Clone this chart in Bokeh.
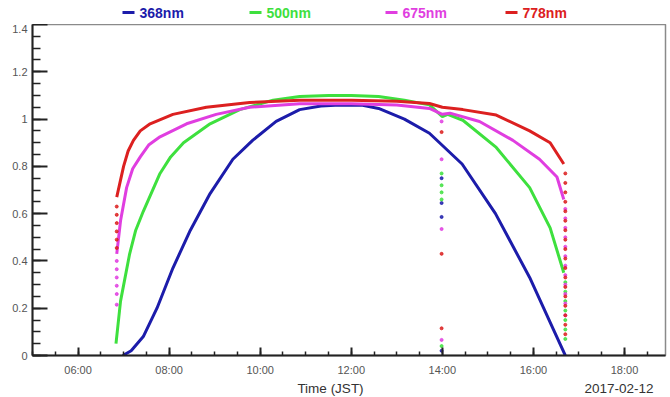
import pandas as pd
from bokeh.plotting import figure
from bokeh.layouts import column
from bokeh.models import Range1d, FixedTicker, CustomJSTickFormatter
from bokeh.core.properties import value
from bokeh.embed import file_html
from bokeh.resources import INLINE

DAY = "2017-02-12"

# ---- data (time JST, normalized intensity) ----
t_368 = ["06:59", "07:10", "07:26", "07:44", "08:05", "08:28", "08:54", "09:24", "09:50",
         "10:21", "10:52", "11:20", "11:45", "12:15", "12:36", "13:10", "13:43", "14:26",
         "15:10", "15:55", "16:27", "16:42"]
v_368 = [0.00, 0.02, 0.08, 0.20, 0.37, 0.53, 0.685, 0.83, 0.91,
         0.99, 1.04, 1.055, 1.06, 1.058, 1.045, 1.00, 0.94, 0.81,
         0.60, 0.33, 0.105, 0.00]

t_500 = ["06:50", "06:56", "07:08", "07:16", "07:26", "07:48", "08:02", "08:19", "08:54",
         "09:33", "10:17", "10:52", "11:30", "12:00", "12:36", "13:10", "13:43", "14:00",
         "14:07", "14:27", "15:11", "15:55", "16:22", "16:40"]
v_500 = [0.05, 0.23, 0.43, 0.53, 0.61, 0.77, 0.84, 0.90, 0.98,
         1.04, 1.08, 1.095, 1.10, 1.10, 1.095, 1.08, 1.06, 1.01,
         1.02, 0.995, 0.88, 0.71, 0.54, 0.35]

t_675 = ["06:51", "06:56", "07:04", "07:12", "07:22", "07:33", "07:48", "08:23", "09:02",
         "09:46", "10:52", "12:00", "13:00", "13:43", "14:00", "14:10", "14:49", "15:33",
         "16:08", "16:31", "16:40"]
v_675 = [0.43, 0.57, 0.71, 0.79, 0.84, 0.89, 0.925, 0.98, 1.02,
         1.05, 1.065, 1.065, 1.06, 1.045, 1.02, 1.025, 0.99, 0.91,
         0.83, 0.755, 0.66]

t_778 = ["06:51", "07:00", "07:06", "07:13", "07:22", "07:35", "08:05", "08:49", "09:46",
         "10:52", "12:00", "13:00", "13:43", "14:00", "14:27", "15:11", "15:55", "16:22",
         "16:40"]
v_778 = [0.67, 0.80, 0.865, 0.91, 0.95, 0.98, 1.02, 1.05, 1.07,
         1.08, 1.08, 1.075, 1.066, 1.05, 1.04, 1.017, 0.95, 0.90,
         0.81]

# scattered points (sunrise / dropout near 14:00 / sunset)
d_778_t = ["06:51"] * 6 + ["13:59"] * 3 + ["16:42"] * 18
d_778_v = [0.63, 0.595, 0.56, 0.525, 0.49, 0.455,
           0.945, 0.43, 0.115,
           0.77, 0.73, 0.69, 0.65, 0.61, 0.57, 0.53, 0.49, 0.45, 0.41, 0.37, 0.33,
           0.29, 0.25, 0.21, 0.17, 0.13, 0.09]
d_675_t = ["06:51"] * 6 + ["13:59"] * 4 + ["16:42"] * 12
d_675_v = [0.40, 0.365, 0.33, 0.295, 0.26, 0.215,
           0.99, 0.83, 0.535, 0.066,
           0.62, 0.58, 0.54, 0.50, 0.46, 0.42, 0.38, 0.34, 0.30, 0.26, 0.22, 0.17]
d_500_t = ["13:59"] * 5 + ["16:42"] * 7
d_500_v = [0.77, 0.72, 0.69, 0.66, 0.04,
           0.31, 0.27, 0.23, 0.19, 0.15, 0.11, 0.07]
d_368_t = ["13:59"] * 4
d_368_v = [0.75, 0.645, 0.586, 0.02]

names = ["368nm", "500nm", "675nm", "778nm"]
colors = ["#1c1caa", "#3ee03e", "#e03ee0", "#dc2020"]
series = [
    (t_368, v_368, d_368_t, d_368_v),
    (t_500, v_500, d_500_t, d_500_v),
    (t_675, v_675, d_675_t, d_675_v),
    (t_778, v_778, d_778_t, d_778_v),
]

x_ticks = ["06:00", "08:00", "10:00", "12:00", "14:00", "16:00", "18:00"]
y_ticks = [0, 0.2, 0.4, 0.6, 0.8, 1.0, 1.2, 1.4]

def ts(lst):
    return pd.to_datetime([f"{DAY} {t}" for t in lst])

def ms(t):
    return pd.Timestamp(f"{DAY} {t}").value / 1e6

FONT = "Liberation Sans"
W = 670
FL, FR = 32, 665  # frame left / right in page pixels (strips align to the main frame)

# ---- legend strip (page-pixel coordinates) ----
leg = figure(width=W, height=24, output_backend="svg", toolbar_location=None,
             x_range=Range1d(FL, FR), y_range=Range1d(0, 24),
             x_axis_location=None, y_axis_location=None,
             min_border_left=0, min_border_right=0, min_border_top=0, min_border_bottom=0)
leg.grid.visible = False
leg.outline_line_color = None
dash_x = [122, 249, 385, 505]
leg.segment(x0=dash_x, y0=[12] * 4, x1=[x + 12 for x in dash_x], y1=[12] * 4,
            line_color=colors, line_width=3)
leg.text(x=[x + 17 for x in dash_x], y=[12] * 4, text=names, text_color=colors,
         text_font=value(FONT), text_font_size="14px", text_font_style="bold",
         text_baseline="middle", text_align="left")

# ---- main plot ----
p = figure(width=W, height=355, x_axis_type="datetime",
           output_backend="svg", toolbar_location=None,
           x_range=Range1d(ms("05:00"), ms("18:54")),
           y_range=Range1d(0, 1.4),
           min_border_left=FL, min_border_right=W - FR, min_border_top=0,
           min_border_bottom=24)
p.grid.visible = False
p.outline_line_color = "#8a8a8a"
p.outline_line_width = 1.5

for (t, v, dt, dv), col in zip(series, colors):
    p.line(ts(t), v, line_color=col, line_width=3)
for (t, v, dt, dv), col in zip(series, colors):
    p.scatter(ts(dt), dv, size=3, fill_color=col, line_color=col, alpha=0.85)

major_x = [ms(h) for h in x_ticks]
minor_x = [ms("05:00") + i * 30 * 60 * 1000 for i in range(0, 28)]
p.xaxis.ticker = FixedTicker(ticks=major_x, minor_ticks=minor_x)
p.xaxis.formatter = CustomJSTickFormatter(code="""
const d = new Date(tick);
const h = String(d.getUTCHours()).padStart(2, '0');
const m = String(d.getUTCMinutes()).padStart(2, '0');
return h + ':' + m;""")
p.yaxis.ticker = FixedTicker(ticks=y_ticks, minor_ticks=[i * 0.05 for i in range(0, 29)])
p.yaxis.formatter = CustomJSTickFormatter(code="return String(Math.round(tick*10)/10);")

for ax in (p.xaxis[0], p.yaxis[0]):
    ax.axis_line_color = "#222222"
    ax.axis_line_width = 2
    ax.major_tick_line_color = "#222222"
    ax.minor_tick_line_color = "#222222"
    ax.major_tick_line_width = 2
    ax.minor_tick_line_width = 1.5
    ax.major_tick_out = 0
    ax.minor_tick_out = 0
    ax.major_label_text_font = FONT
    ax.major_label_text_font_size = "11px"
    ax.major_label_text_color = "#555555"

p.yaxis.major_tick_in = 15
p.yaxis.minor_tick_in = 8
p.yaxis.major_label_standoff = 5
p.xaxis.major_tick_in = 8
p.xaxis.minor_tick_in = 4
p.xaxis.major_label_standoff = 8

# ---- bottom strip ----
bot = figure(width=W, height=18, output_backend="svg", toolbar_location=None,
             x_range=Range1d(FL, FR), y_range=Range1d(0, 18),
             x_axis_location=None, y_axis_location=None,
             min_border_left=0, min_border_right=0, min_border_top=0, min_border_bottom=0)
bot.grid.visible = False
bot.outline_line_color = None
bot.text(x=[330, 653], y=[9, 9], text=["Time (JST)", DAY],
         text_align=["center", "right"], text_color="#333333",
         text_font=value(FONT), text_font_size="13.5px", text_baseline="middle")

layout = column(leg, p, bot, spacing=0)
open("out.html", "w").write(file_html(layout, INLINE))
